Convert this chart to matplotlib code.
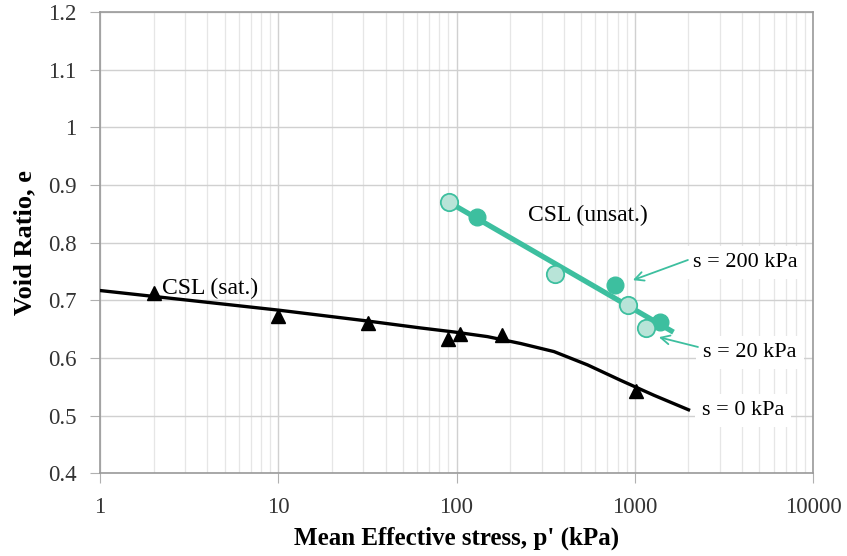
import numpy as np
import matplotlib
matplotlib.use("Agg")
import matplotlib.pyplot as plt

# saturated tests (s = 0 kPa)
p_sat = [2, 10, 32, 90, 105, 180, 1010]
e_sat = [0.712, 0.672, 0.661, 0.632, 0.641, 0.640, 0.542]

# CSL (sat.) curve
p_csl_sat = [1, 10, 30, 63, 97, 149, 229, 352, 542, 834, 1284, 2000]
e_csl_sat = [0.717, 0.683, 0.665, 0.652, 0.645, 0.637, 0.625, 0.611, 0.588,
             0.561, 0.535, 0.510]

# unsaturated tests
p_s20 = [91, 356, 910, 1150]
e_s20 = [0.871, 0.745, 0.692, 0.652]
p_s200 = [131, 770, 1380]
e_s200 = [0.845, 0.726, 0.663]

# CSL (unsat.) line
p_csl_unsat = [91, 1600]
e_csl_unsat = [0.870, 0.647]

teal = '#3dbf9f'
light = '#b8e4d8'
serif = 'Liberation Serif'

fig = plt.figure(figsize=(8.47, 5.56), dpi=100)
ax = fig.add_axes([0.118, 0.149, 0.842, 0.829])

ax.set_xscale('log')
ax.set_xlim(1, 10000)
ax.set_ylim(0.4, 1.2)
ax.set_yticks(np.arange(0.4, 1.21, 0.1))
ax.set_yticklabels(['0.4', '0.5', '0.6', '0.7', '0.8', '0.9', '1', '1.1', '1.2'])
ax.set_xticks([1, 10, 100, 1000, 10000])
ax.set_xticklabels(['1', '10', '100', '1000', '10000'])

ax.grid(True, which='major', color='#d0d0d0', linewidth=1.0)
ax.grid(True, which='minor', axis='x', color='#e6e6e6', linewidth=0.9)
ax.set_axisbelow(True)
for sp in ax.spines.values():
    sp.set_color('#9a9a9a')
    sp.set_linewidth(1.2)
ax.tick_params(axis='both', which='major', length=7, color='#b0b0b0',
               labelsize=16.5, pad=10)
ax.tick_params(axis='x', which='minor', length=0)
for lab in ax.get_xticklabels() + ax.get_yticklabels():
    lab.set_fontfamily(serif)
    lab.set_color('#333333')

ax.plot(p_csl_sat, e_csl_sat, color='black', linewidth=2.4, zorder=3)
ax.plot(p_sat, e_sat, linestyle='none', marker='^', markersize=10,
        color='black', zorder=4)

ax.plot(p_csl_unsat, e_csl_unsat, color=teal, linewidth=3.8, zorder=3)
ax.plot(p_s200, e_s200, linestyle='none', marker='o', markersize=12,
        color=teal, markeredgecolor=teal, zorder=4)
ax.plot(p_s20, e_s20, linestyle='none', marker='o', markersize=12.5,
        markerfacecolor=light, markeredgecolor=teal, markeredgewidth=1.3,
        zorder=5)

ax.text(4.15, 0.721, 'CSL (sat.)', fontsize=17, family=serif, ha='center',
        va='center', zorder=6)
ax.text(545, 0.848, 'CSL (unsat.)', fontsize=17, family=serif, ha='center',
        va='center', zorder=6)

box = dict(facecolor='white', edgecolor='none', pad=5)
ax.text(4150, 0.765, 's = 200 kPa', fontsize=16, family=serif, ha='center',
        va='center', bbox=box, zorder=6)
ax.text(4430, 0.610, 's = 20 kPa', fontsize=16, family=serif, ha='center',
        va='center', bbox=box, zorder=6)
ax.text(4040, 0.509, 's = 0 kPa', fontsize=16, family=serif, ha='center',
        va='center', bbox=box, zorder=6)

arrow = dict(arrowstyle='->', color=teal, lw=1.3, shrinkA=0, shrinkB=0,
             mutation_scale=16)
ax.annotate('', xy=(975, 0.735), xytext=(1985, 0.770), arrowprops=arrow,
            zorder=6)
ax.annotate('', xy=(1364, 0.636), xytext=(2260, 0.619), arrowprops=arrow,
            zorder=6)

ax.set_xlabel("Mean Effective stress, p' (kPa)", fontsize=18,
              fontweight='bold', family=serif, labelpad=6)
ax.set_ylabel('Void Ratio, e', fontsize=19, fontweight='bold',
              family=serif, labelpad=8)

fig.savefig('out.png', dpi=100)
